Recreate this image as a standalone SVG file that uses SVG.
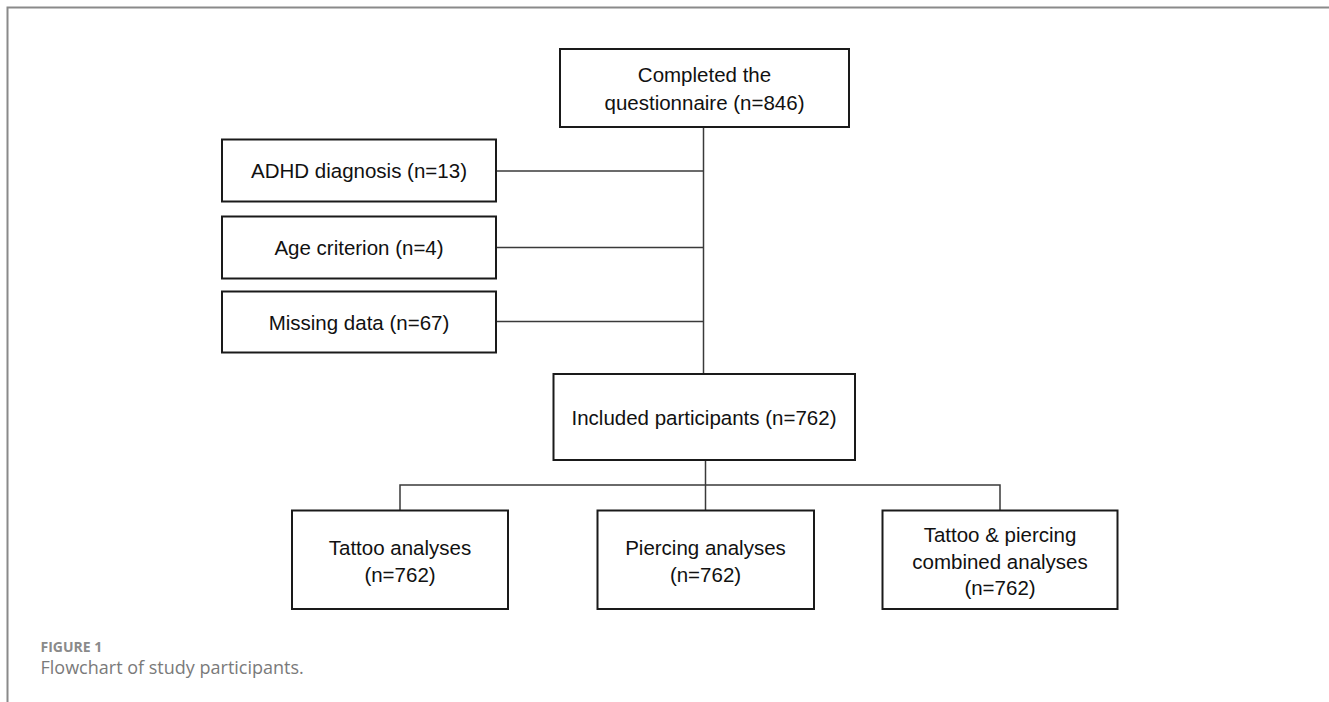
<svg xmlns="http://www.w3.org/2000/svg" width="1329" height="702" viewBox="0 0 1329 702">
<style>
.box{fill:#fff;stroke:#1a1a1a;stroke-width:2}
.t{font-family:"Liberation Sans",Arial,sans-serif;font-size:20.5px;fill:#111;text-anchor:middle}
.c{fill:none;stroke:#3a3a3a;stroke-width:1.5}
.frame{fill:none;stroke:#8a8a8a;stroke-width:2}
.cap1{font-family:"Open Sans","Liberation Sans",sans-serif;font-size:14px;font-weight:bold;fill:#8a8a8a}
.cap2{font-family:"Open Sans","Liberation Sans",sans-serif;font-size:18px;fill:#7a7a7a}
</style>
<rect width="1329" height="702" fill="#fff"/>
<path class="frame" d="M7.5 702 V7.5 H1329"/>
<g id="connectors">
<path class="c" d="M703.5 127 V374"/>
<path class="c" d="M496 171 H703.5"/>
<path class="c" d="M496 247.5 H703.5"/>
<path class="c" d="M496 321.5 H703.5"/>
<path class="c" d="M705.5 460 V510.5"/>
<path class="c" d="M400 510.5 V485 H1000 V510.5"/>
</g>
<g id="n-completed">
<rect class="box" x="560" y="49" width="289" height="78"/>
<text class="t" x="704.5" y="82">Completed the</text>
<text class="t" x="704.5" y="110">questionnaire (n=846)</text>
</g>
<g id="n-adhd">
<rect class="box" x="222" y="139.5" width="274" height="62"/>
<text class="t" x="359" y="178">ADHD diagnosis (n=13)</text>
</g>
<g id="n-age">
<rect class="box" x="222" y="216.5" width="274" height="62"/>
<text class="t" x="359" y="255">Age criterion (n=4)</text>
</g>
<g id="n-missing">
<rect class="box" x="222" y="291.5" width="274" height="61"/>
<text class="t" x="359" y="329.5">Missing data (n=67)</text>
</g>
<g id="n-included">
<rect class="box" x="553.5" y="374" width="301.5" height="86"/>
<text class="t" x="704" y="424.5">Included participants (n=762)</text>
</g>
<g id="n-tattoo">
<rect class="box" x="292" y="510.5" width="216" height="98.5"/>
<text class="t" x="400" y="555">Tattoo analyses</text>
<text class="t" x="400" y="582">(n=762)</text>
</g>
<g id="n-piercing">
<rect class="box" x="597.5" y="510.5" width="216.5" height="98.5"/>
<text class="t" x="705.5" y="555">Piercing analyses</text>
<text class="t" x="705.5" y="582">(n=762)</text>
</g>
<g id="n-combined">
<rect class="box" x="882.5" y="510.5" width="235" height="98.5"/>
<text class="t" x="1000" y="542">Tattoo &amp; piercing</text>
<text class="t" x="1000" y="568.5">combined analyses</text>
<text class="t" x="1000" y="595">(n=762)</text>
</g>
<text class="cap1" x="40.5" y="651.5">FIGURE 1</text>
<text class="cap2" x="40.5" y="674">Flowchart of study participants.</text>
</svg>
